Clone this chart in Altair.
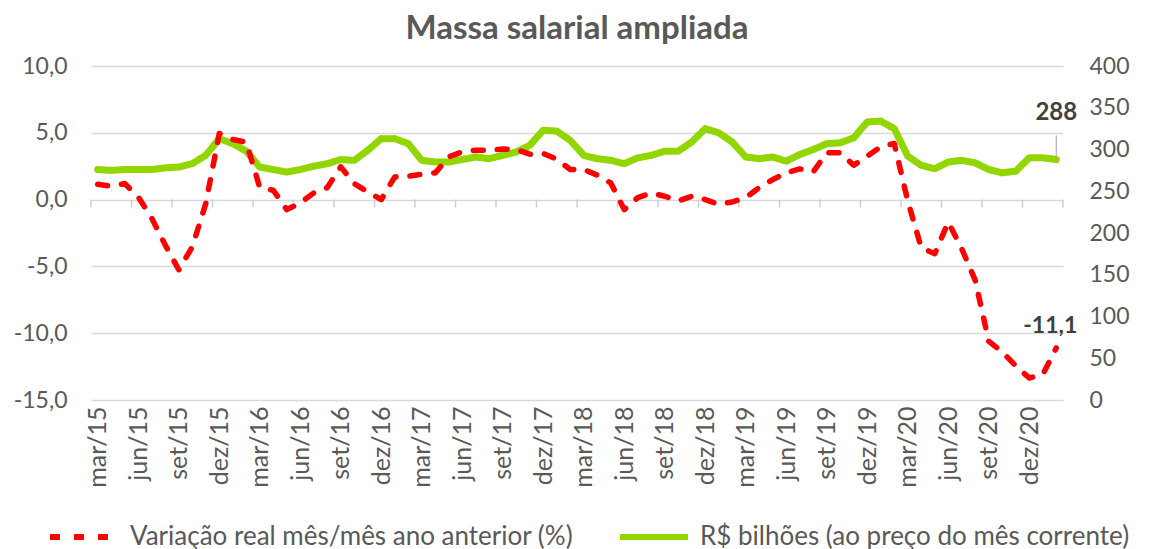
import json
import altair as alt
import pandas as pd

meses = ["jan", "fev", "mar", "abr", "mai", "jun", "jul", "ago", "set", "out", "nov", "dez"]
periodos = [f"{meses[(i + 2) % 12]}/{15 + (i + 2) // 12}" for i in range(72)]

variacao = [
    1.15, 1.0, 1.2, 0.2, -1.4, -3.4, -5.25, -3.55, -0.3, 4.95, 4.5, 4.3,
    0.9, 0.7, -0.75, -0.25, 0.5, 0.9, 2.45, 1.2, 0.58, 0.0, 1.7, 1.75,
    1.9, 2.0, 3.2, 3.58, 3.7, 3.7, 3.78, 3.75, 3.4, 3.45, 3.03, 2.25,
    2.25, 1.83, 1.25, -0.75, 0.15, 0.5, 0.25, -0.1, 0.25, 0.0, -0.35, -0.18,
    0.15, 0.9, 1.5, 2.0, 2.3, 2.08, 3.5, 3.5, 2.57, 3.25, 3.95, 4.2,
    -0.1, -3.6, -4.05, -1.68, -3.68, -6.05, -10.6, -11.4, -12.45, -13.35, -13.1, -11.1,
]
massa = [
    276, 275, 276, 276, 276, 278, 279, 283, 293, 313, 307, 298,
    279, 276, 273, 276, 280, 283, 288, 287, 299, 313, 313, 307,
    287, 285, 285, 288, 291, 289, 293, 297, 305, 323, 322, 311,
    293, 289, 287, 283, 290, 293, 298, 298, 309, 325, 320, 309,
    291, 289, 291, 286, 294, 300, 307, 308, 314, 333, 334, 325,
    292, 281, 277, 285, 287, 284, 276, 272, 274, 290, 290, 288,
]

S1 = "Variação real mês/mês ano anterior (%)"
S2 = "R$ bilhões (ao preço do mês corrente)"

FONT = "Lato"
GRAY = "#595959"
DARK = "#404040"
GRID = "#d9d9d9"
RED = "#ff0000"
GREEN = "#92d600"

W, H = 972, 334
LEFT_MIN, LEFT_MAX = -15, 10
RIGHT_MIN, RIGHT_MAX = 0, 400
SYMBOL_W = 68

n = len(periodos)
last = n - 1
df = pd.DataFrame({
    "idx": list(range(n)),
    "periodo": periodos,
    "variacao": variacao,
    "massa": massa,
})

label_vals = list(range(0, n, 3))
tick_vals = [v - 0.5 for v in range(0, n + 1, 3)]
ticks_df = pd.DataFrame({"pos": tick_vals, "zero": [0] * len(tick_vals)})

xscale = alt.Scale(domain=[-0.5, n - 0.5], nice=False, zero=False)
ly = alt.Scale(domain=[LEFT_MIN, LEFT_MAX], nice=False, zero=False)
ry = alt.Scale(domain=[RIGHT_MIN, RIGHT_MAX], nice=False, zero=False)

label_expr = json.dumps(periodos[::3], ensure_ascii=False) + "[round(datum.value / 3)]"
num_expr = "replace(replace(format(datum.value, '.1f'), '.', ','), '\u2212', '-')"

x_label_axis = alt.Axis(
    values=label_vals, labelExpr=label_expr, labelAngle=270, labelFontSize=25,
    labelFont=FONT, labelColor=GRAY, ticks=False, domain=False, grid=False,
    labelPadding=6, title=None, orient="bottom", labelOverlap=False,
)
y_right_axis = alt.Axis(
    orient="right", values=list(range(0, 401, 50)), grid=False, ticks=False,
    domain=False, labelFontSize=23, labelFont=FONT, labelColor=GRAY,
    labelPadding=26, title=None,
)
y_left_axis = alt.Axis(
    orient="left", values=[-15, -10, -5, 0, 5, 10], labelExpr=num_expr,
    grid=True, gridColor=GRID, gridWidth=1.3, ticks=False, domain=False,
    labelFontSize=23, labelFont=FONT, labelColor=GRAY, labelPadding=24,
    title=None,
)

color_scale = alt.Scale(domain=[S1, S2], range=[RED, GREEN])
dash_scale = alt.Scale(domain=[S1, S2], range=[[10, 14], [1, 0]])

legend = alt.Legend(
    orient="none", legendX=-44, legendY=468 - SYMBOL_W // 2, direction="horizontal",
    title=None, symbolType="stroke", symbolSize=SYMBOL_W ** 2, symbolStrokeWidth=6,
    labelFontSize=26, labelFont=FONT, labelColor=GRAY, labelLimit=0,
    columnPadding=34, labelOffset=9,
)

base = alt.Chart(df)

xr = alt.X("idx:Q", scale=xscale, axis=None)
yr = alt.Y("massa:Q", scale=ry, axis=y_right_axis)
xl = alt.X("idx:Q", scale=xscale, axis=x_label_axis)
yl = alt.Y("variacao:Q", scale=ly, axis=y_left_axis)

# green series (right axis)
green_line = base.transform_calculate(serie="'" + S2 + "'").mark_line(
    strokeWidth=7, strokeCap="round", strokeJoin="round"
).encode(
    x=xr, y=yr,
    color=alt.Color("serie:N", scale=color_scale, legend=legend),
    strokeDash=alt.StrokeDash("serie:N", scale=dash_scale, legend=legend),
)

green_rule = base.transform_filter(f"datum.idx == {last}").mark_rule(
    color="#a6a6a6", strokeWidth=1, yOffset=-2, y2Offset=-24
).encode(x=xr, y=yr, y2="massa:Q")

green_text = base.transform_filter(f"datum.idx == {last}").mark_text(
    font=FONT, fontSize=24, fontWeight="bold", color=DARK, dy=-47
).encode(x=xr, y=yr, text=alt.Text("massa:Q", format=".0f"))

# category-boundary ticks hanging from the zero line
zero_ticks = alt.Chart(ticks_df).mark_rule(
    color="#cfcfcf", strokeWidth=1.5, y2Offset=8
).encode(
    x=alt.X("pos:Q", scale=xscale, axis=x_label_axis),
    y=alt.Y("zero:Q", scale=ly, axis=y_left_axis),
    y2="zero:Q",
)

# red series (left axis)
red_line = base.transform_calculate(serie="'" + S1 + "'").mark_line(
    strokeWidth=5.5, strokeCap="round", strokeJoin="round"
).encode(
    x=xl, y=yl,
    color=alt.Color("serie:N", scale=color_scale, legend=legend),
    strokeDash=alt.StrokeDash("serie:N", scale=dash_scale, legend=legend),
)

red_text = base.transform_filter(f"datum.idx == {last}").transform_calculate(
    txt="replace(replace(format(datum.variacao, '.1f'), '.', ','), '\u2212', '-')"
).mark_text(
    font=FONT, fontSize=23, fontWeight="bold", color=DARK, dx=-6, dy=-22
).encode(x=xl, y=yl, text="txt:N")

right = alt.layer(green_line, green_rule, green_text)
left = alt.layer(zero_ticks, red_line, red_text)

chart = alt.layer(right, left).resolve_scale(
    y="independent"
).resolve_axis(
    x="independent", y="independent"
).properties(
    width=W, height=H,
    padding={"left": 5, "top": 5, "right": 0, "bottom": 5},
    title=alt.Title("Massa salarial ampliada", font=FONT, fontSize=33,
                    fontWeight="bold", color=GRAY, anchor="middle", offset=9),
).configure_view(stroke=None)

chart.save("out.html", embed_options={"renderer": "svg", "actions": False})
